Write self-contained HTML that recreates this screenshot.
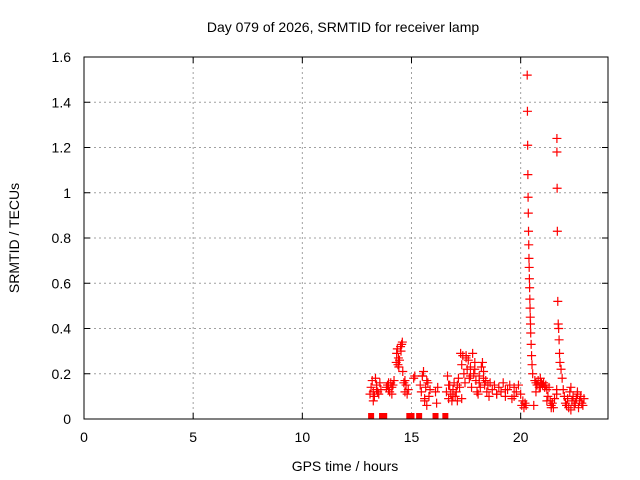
<!DOCTYPE html>
<html><head><meta charset="utf-8"><style>
body{margin:0;background:#fff;}
svg{display:block;font-family:"Liberation Sans",sans-serif;}
</style></head><body>
<svg id="chart" width="640" height="480" viewBox="0 0 640 480">
<rect x="0" y="0" width="640" height="480" fill="#fff"/>
<text x="343" y="32" font-size="14" text-anchor="middle" fill="#000">Day 079 of 2026, SRMTID for receiver lamp</text>
<text x="345" y="471" font-size="14" text-anchor="middle" fill="#000">GPS time / hours</text>
<text x="19" y="238" font-size="14" text-anchor="middle" fill="#000" transform="rotate(-90 19 238)">SRMTID / TECUs</text>
<g id="grid"></g><g id="ticks"></g><g id="marks"></g>
<rect x="84" y="57" width="524" height="362" fill="none" stroke="#000" stroke-width="1"/>
</svg>
<script>
const xTicks=[0,5,10,15,20];
const yTicks=[0,0.2,0.4,0.6,0.8,1,1.2,1.4,1.6];
const yTickLabels=["0","0.2","0.4","0.6","0.8","1","1.2","1.4","1.6"];
const times=[13.1,13.15,13.2,13.25,13.3,13.35,13.4,13.45,13.5,13.55,13.6,13.85,13.9,13.95,14.0,14.05,14.1,14.15,14.2,14.3,14.32,14.35,14.38,14.4,14.42,14.45,14.5,14.52,14.55,14.58,14.6,14.65,14.7,14.75,14.8,14.85,15.1,15.15,15.4,15.45,15.5,15.55,15.6,15.65,15.7,15.75,15.8,15.85,16.1,16.15,16.2,16.6,16.65,16.7,16.75,16.8,16.85,16.9,16.95,17.0,17.05,17.1,17.15,17.2,17.25,17.3,17.35,17.4,17.45,17.5,17.55,17.6,17.65,17.7,17.75,17.8,17.85,17.9,17.95,18.0,18.05,18.1,18.15,18.2,18.25,18.3,18.35,18.4,18.45,18.5,18.55,18.6,18.7,18.8,18.9,19.0,19.1,19.2,19.3,19.4,19.5,19.6,19.7,19.8,19.9,20.0,20.05,20.1,20.15,20.2,20.25,20.30,20.31,20.32,20.33,20.34,20.35,20.36,20.37,20.38,20.39,20.40,20.41,20.42,20.43,20.44,20.45,20.46,20.48,20.5,20.52,20.55,20.9,20.95,21.0,21.05,21.1,21.15,21.2,21.25,21.3,21.35,21.4,21.45,21.5,21.55,21.65,21.65,21.66,21.66,21.67,21.68,21.7,21.72,21.74,21.76,21.78,21.8,21.85,21.9,21.95,22.0,22.05,22.1,22.15,22.2,22.25,22.3,22.35,22.4,22.45,22.5,22.55,22.6,22.65,22.7,22.75,22.8,22.85,22.9,13.25,13.4,13.95,14.1,14.7,15.5,15.6,15.7,16.7,16.9,17.1,17.3,17.5,17.7,17.9,18.1,18.3,18.9,19.3,19.7,20.7,20.9,21.2,21.4,22.1,22.3,22.6,20.6,20.65,20.7,20.75,20.8,20.85];
const values=[0.11,0.14,0.17,0.12,0.10,0.18,0.15,0.12,0.11,0.16,0.13,0.14,0.15,0.13,0.12,0.16,0.14,0.15,0.17,0.25,0.29,0.31,0.24,0.27,0.23,0.26,0.32,0.30,0.33,0.34,0.21,0.16,0.12,0.15,0.11,0.13,0.18,0.19,0.15,0.12,0.19,0.21,0.08,0.14,0.06,0.16,0.10,0.13,0.12,0.07,0.14,0.12,0.19,0.09,0.15,0.11,0.08,0.13,0.16,0.10,0.12,0.08,0.18,0.14,0.29,0.24,0.28,0.20,0.16,0.28,0.22,0.26,0.18,0.23,0.14,0.29,0.20,0.25,0.17,0.12,0.11,0.19,0.14,0.23,0.25,0.18,0.15,0.17,0.12,0.15,0.10,0.16,0.13,0.15,0.11,0.14,0.12,0.16,0.10,0.13,0.15,0.09,0.14,0.12,0.15,0.11,0.06,0.08,0.05,0.07,0.06,1.52,1.36,1.21,1.08,0.98,0.91,0.83,0.77,0.71,0.67,0.62,0.58,0.53,0.49,0.45,0.42,0.38,0.33,0.28,0.24,0.20,0.18,0.16,0.15,0.16,0.14,0.15,0.13,0.10,0.14,0.08,0.06,0.07,0.05,0.09,0.11,0.13,1.24,1.18,1.02,0.83,0.52,0.42,0.40,0.35,0.29,0.25,0.22,0.18,0.13,0.10,0.07,0.06,0.09,0.05,0.12,0.14,0.08,0.10,0.06,0.07,0.09,0.11,0.05,0.08,0.10,0.07,0.06,0.09,0.08,0.13,0.16,0.11,0.17,0.19,0.09,0.17,0.15,0.10,0.15,0.09,0.27,0.19,0.22,0.16,0.21,0.11,0.13,0.10,0.12,0.14,0.08,0.05,0.06,0.04,0.12,0.06,0.17,0.16,0.15,0.17,0.14,0.16];
const zeroTimes=[13.15,13.65,13.75,14.9,15.0,15.35,16.1,16.55];
const X0=84,X1=608,Y0=419,Y1=57,XMAX=24,YMAX=1.6;
const xs=t=>X0+(X1-X0)*t/XMAX;
const ys=v=>Y0-(Y0-Y1)*v/YMAX;
const NS="http://www.w3.org/2000/svg";
function mk(tag,attrs,parent){const e=document.createElementNS(NS,tag);for(const k in attrs)e.setAttribute(k,attrs[k]);parent.appendChild(e);return e;}
const grid=document.getElementById('grid'),ticks=document.getElementById('ticks'),marks=document.getElementById('marks');
xTicks.forEach(t=>{const x=xs(t);
 if(t>0){const g=mk('line',{x1:x,x2:x,y1:Y1,y2:Y0,stroke:'#a0a0a0','stroke-dasharray':'2,3'},grid);
 
 }
 const tk=mk('line',{x1:x,x2:x,y1:Y0,y2:Y0-6,stroke:'#000'},ticks);
 
 
 const tk2=mk('line',{x1:x,x2:x,y1:Y1,y2:Y1+6,stroke:'#000'},ticks);
 
 
 const l=mk('text',{x:x,y:442,'font-size':14,'text-anchor':'middle',fill:'#000'},ticks);l.textContent=t;
 
 });
yTicks.forEach((v,i)=>{const y=ys(v);
 if(v>0&&v<YMAX){const g=mk('line',{x1:X0,x2:X1,y1:y,y2:y,stroke:'#a0a0a0','stroke-dasharray':'2,3'},grid);
 
 }
 const tk=mk('line',{x1:X0,x2:X0+6,y1:y,y2:y,stroke:'#000'},ticks);
 
 
 const tk2=mk('line',{x1:X1,x2:X1-6,y1:y,y2:y,stroke:'#000'},ticks);
 
 
 const l=mk('text',{x:71,y:y+5,'font-size':14,'text-anchor':'end',fill:'#000'},ticks);l.textContent=yTickLabels[i];
 
 });
times.forEach((t,i)=>{const x=xs(t),y=ys(values[i]);
 const p=mk('path',{d:`M${x-4.5},${y}H${x+4.5}M${x},${y-4.5}V${y+4.5}`,stroke:'#f00','stroke-width':1.2,fill:'none'},marks);
 
 });
zeroTimes.forEach(t=>{const r=mk('rect',{x:xs(t)-3,y:Y0-6,width:6,height:6,fill:'#f00'},marks);
 
 });
</script>
</body></html>
